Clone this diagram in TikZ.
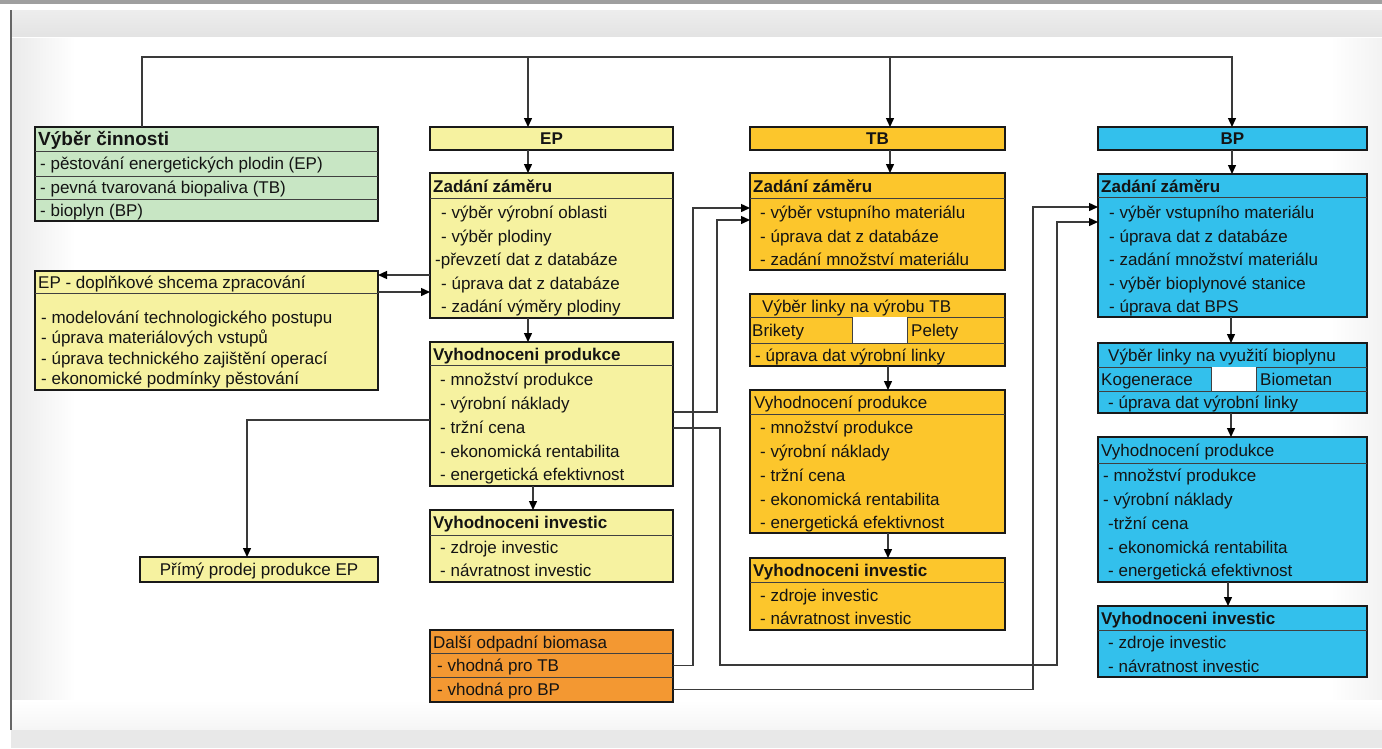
\documentclass[tikz,border=0pt]{standalone}
\usepackage{fontspec}
\setmainfont{Liberation Sans}
\usetikzlibrary{arrows.meta,calc}

\definecolor{fillvc}{HTML}{C8E6C4}
\definecolor{fillep}{HTML}{F6F2A0}
\definecolor{filltb}{HTML}{FCC62C}
\definecolor{fillbp}{HTML}{33C0EC}
\definecolor{fillodp}{HTML}{F39832}
\definecolor{linegray}{HTML}{3A3A3A}

% box: name, x1, y1, x2, y2, fill colour
\newcommand\blk[6]{%
  \pgfmathsetmacro\blkw{#4-#2}\pgfmathsetmacro\blkh{#5-#3}%
  \node[blkframe, fill=#6, minimum width=\blkw pt, minimum height=\blkh pt] (#1) at (#2,#3) {};}
% divider inside a box at height y
\newcommand\rowline[2]{\draw[sepline] (#1.west |- 0,#2) -- (#1.east |- 0,#2);}
% text lines: name, x, y, text
\newcommand\tx[4]{\node[txt] (#1) at (#2,#3) {#4};}
\newcommand\txb[4]{\node[txt, font=\fontsize{17}{20}\selectfont\bfseries] (#1) at (#2,#3) {#4};}

\begin{document}
\begin{tikzpicture}[x=1pt, y=-1pt,
  blkframe/.style={draw=black!90, line width=1.8pt, rectangle, inner sep=0pt, outer sep=0pt, anchor=north west},
  sepline/.style={draw=black!75, line width=0.9pt},
  txt/.style={anchor=mid west, inner sep=0pt, yshift=-3.5pt, text=black!92, font=\fontsize{17}{20}\selectfont},
  conn/.style={draw=linegray, line width=1.4pt},
  arr/.style={conn, -{Triangle[length=9pt, width=8pt, color=black]}}]

\useasboundingbox (0,0) rectangle (1382,748);

% page frame and soft edges
\fill[white] (0,0) rectangle (1382,748);
\fill[gray!75] (0,0) rectangle (1382,3.5);
\shade[top color=black!7, bottom color=black!11] (11,10) rectangle (1382,37);
\draw[white, line width=0.8pt] (11,37.5) -- (1382,37.5);
\shade[left color=black!8, right color=white] (12,38) rectangle (75,730);
\shade[left color=white, right color=black!5] (1330,38) rectangle (1382,730);
\shade[top color=white, bottom color=black!4] (12,700) rectangle (1382,730);
\fill[black!9] (11,730) rectangle (1382,748);
\draw[gray!80!black, line width=1.6pt] (11,10) -- (11,730);

% ---------- activity choice ----------
\blk{vc}{35}{127}{378}{221}{fillvc}
\rowline{vc}{151}\rowline{vc}{176}\rowline{vc}{199}
\node[txt, font=\fontsize{19}{22}\selectfont\bfseries] (vc-t) at (38,139) {Výběr činnosti};
\tx{vc-1}{40}{163.5}{- pěstování energetických plodin (EP)}
\tx{vc-2}{40}{187.5}{- pevná tvarovaná biopaliva (TB)}
\tx{vc-3}{40}{210}{- bioplyn (BP)}

% ---------- supplementary EP scheme ----------
\blk{dop}{35}{271}{378}{390}{fillep}
\rowline{dop}{293}
\tx{dop-t}{38}{282}{EP - doplňkové shcema zpracování}
\tx{dop-1}{41}{317}{- modelování technologického postupu}
\tx{dop-2}{41}{337.5}{- úprava materiálových vstupů}
\tx{dop-3}{41}{358}{- úprava technického zajištění operací}
\tx{dop-4}{41}{378.5}{- ekonomické podmínky pěstování}

\blk{pp}{140}{557}{378}{582}{fillep}
\node[txt, anchor=mid] (pp-t) at (pp.center) {Přímý prodej produkce EP};

% ---------- EP column ----------
\blk{ep}{430}{127}{673}{150}{fillep}
\node[txt, anchor=mid, font=\fontsize{17}{20}\selectfont\bfseries] (ep-t) at (ep.center) {EP};

\blk{epz}{430}{173}{673}{318}{fillep}
\rowline{epz}{198}
\txb{epz-t}{433}{186}{Zadání záměru}
\tx{epz-1}{441}{212}{- výběr výrobní oblasti}
\tx{epz-2}{441}{236}{- výběr plodiny}
\tx{epz-3}{435}{259.5}{-převzetí dat z databáze}
\tx{epz-4}{441}{283}{- úprava dat z databáze}
\tx{epz-5}{441}{306.5}{- zadání výměry plodiny}

\blk{epvp}{430}{342}{673}{486}{fillep}
\rowline{epvp}{365}
\txb{epvp-t}{433}{354}{Vyhodnoceni produkce}
\tx{epvp-1}{440}{379}{- množství produkce}
\tx{epvp-2}{440}{403}{- výrobní náklady}
\tx{epvp-3}{440}{427}{- tržní cena}
\tx{epvp-4}{440}{451}{- ekonomická rentabilita}
\tx{epvp-5}{440}{474.5}{- energetická efektivnost}

\blk{epvi}{430}{510}{673}{582}{fillep}
\rowline{epvi}{535}
\txb{epvi-t}{433}{522.5}{Vyhodnoceni investic}
\tx{epvi-1}{440}{547}{- zdroje investic}
\tx{epvi-2}{440}{570}{- návratnost investic}

\blk{odp}{430}{630}{673}{702}{fillodp}
\rowline{odp}{653}\rowline{odp}{677}
\tx{odp-t}{433}{642}{Další odpadní biomasa}
\tx{odp-1}{437}{665.5}{- vhodná pro TB}
\tx{odp-2}{437}{689.5}{- vhodná pro BP}

% ---------- TB column ----------
\blk{tb}{750}{127}{1005}{150}{filltb}
\node[txt, anchor=mid, font=\fontsize{17}{20}\selectfont\bfseries] (tb-t) at (tb.center) {TB};

\blk{tbz}{750}{173}{1005}{270}{filltb}
\rowline{tbz}{198}
\txb{tbz-t}{753}{186}{Zadání záměru}
\tx{tbz-1}{760}{212}{- výběr vstupního materiálu}
\tx{tbz-2}{760}{236}{- úprava dat z databáze}
\tx{tbz-3}{760}{259}{- zadání množství materiálu}

\blk{tbl}{750}{294}{1005}{366}{filltb}
\rowline{tbl}{317}\rowline{tbl}{343}
\fill[white] (852,317) rectangle (907,343);
\draw[sepline] (852,317) -- (852,343) (907,317) -- (907,343);
\tx{tbl-t}{762}{306}{Výběr linky na výrobu TB}
\tx{tbl-a}{752}{330}{Brikety}
\tx{tbl-b}{911}{330}{Pelety}
\tx{tbl-1}{755}{355}{- úprava dat výrobní linky}

\blk{tbvp}{750}{390}{1005}{533}{filltb}
\rowline{tbvp}{414}
\tx{tbvp-t}{754}{402}{Vyhodnocení produkce}
\tx{tbvp-1}{760}{427}{- množství produkce}
\tx{tbvp-2}{760}{451}{- výrobní náklady}
\tx{tbvp-3}{760}{475}{- tržní cena}
\tx{tbvp-4}{760}{499}{- ekonomická rentabilita}
\tx{tbvp-5}{760}{522}{- energetická efektivnost}

\blk{tbvi}{750}{558}{1005}{630}{filltb}
\rowline{tbvi}{582}
\txb{tbvi-t}{753}{570}{Vyhodnoceni investic}
\tx{tbvi-1}{760}{595}{- zdroje investic}
\tx{tbvi-2}{760}{618}{- návratnost investic}

% ---------- BP column ----------
\blk{bp}{1098}{127}{1367}{150}{fillbp}
\node[txt, anchor=mid, font=\fontsize{17}{20}\selectfont\bfseries] (bp-t) at (bp.center) {BP};

\blk{bpz}{1098}{174}{1367}{317}{fillbp}
\rowline{bpz}{197}
\txb{bpz-t}{1101}{186}{Zadání záměru}
\tx{bpz-1}{1109}{212}{- výběr vstupního materiálu}
\tx{bpz-2}{1109}{236}{- úprava dat z databáze}
\tx{bpz-3}{1109}{259}{- zadání množství materiálu}
\tx{bpz-4}{1109}{283}{- výběr bioplynové stanice}
\tx{bpz-5}{1109}{306}{- úprava dat BPS}

\blk{bpl}{1098}{343}{1367}{413}{fillbp}
\rowline{bpl}{367}\rowline{bpl}{391}
\fill[white] (1211,367) rectangle (1256,391);
\draw[sepline] (1211,367) -- (1211,391) (1256,367) -- (1256,391);
\tx{bpl-t}{1108}{355}{Výběr linky na využití bioplynu}
\tx{bpl-a}{1101}{379}{Kogenerace}
\tx{bpl-b}{1260}{379}{Biometan}
\tx{bpl-1}{1108}{402}{- úprava dat výrobní linky}

\blk{bpvp}{1098}{437}{1367}{582}{fillbp}
\rowline{bpvp}{463}
\tx{bpvp-t}{1101}{450}{Vyhodnocení produkce}
\tx{bpvp-1}{1103}{475}{- množství produkce}
\tx{bpvp-2}{1103}{499}{- výrobní náklady}
\tx{bpvp-3}{1108}{523}{-tržní cena}
\tx{bpvp-4}{1108}{547}{- ekonomická rentabilita}
\tx{bpvp-5}{1108}{570}{- energetická efektivnost}

\blk{bpvi}{1098}{606}{1367}{677}{fillbp}
\rowline{bpvi}{630}
\txb{bpvi-t}{1101}{618}{Vyhodnoceni investic}
\tx{bpvi-1}{1108}{642}{- zdroje investic}
\tx{bpvi-2}{1108}{666}{- návratnost investic}

% ---------- connectors ----------
% distribution line from the activity choice
\coordinate (busL) at (142,57);
\coordinate (busEP) at (528,57);
\coordinate (busTB) at (890,57);
\draw[arr] (vc.north -| busL) -- (busL) -| (bp.north -| 1232,0);
\draw[arr] (busEP) -- (ep.north -| busEP);
\draw[arr] (busTB) -- (tb.north -| busTB);

% vertical flow within columns
\draw[arr] (ep.south -| 528,0) -- (epz.north -| 528,0);
\draw[arr] (epz.south -| 528,0) -- (epvp.north -| 528,0);
\draw[arr] (epvp.south -| 533,0) -- (epvi.north -| 533,0);
\draw[arr] (tb.south -| 890,0) -- (tbz.north -| 890,0);
\draw[arr] (tbl.south -| 888,0) -- (tbvp.north -| 888,0);
\draw[arr] (tbvp.south -| 888,0) -- (tbvi.north -| 888,0);
\draw[arr] (bp.south -| 1232,0) -- (bpz.north -| 1232,0);
\draw[arr] (bpz.south -| 1231,0) -- (bpl.north -| 1231,0);
\draw[arr] (bpl.south -| 1231,0) -- (bpvp.north -| 1231,0);
\draw[arr] (bpvp.south -| 1228,0) -- (bpvi.north -| 1228,0);

% EP intent <-> supplementary scheme
\draw[arr] (epz.west |- 0,275) -- (dop.east |- 0,275);
\draw[arr] (dop.east |- 0,292) -- (epz.west |- 0,292);

% EP production to direct sale
\draw[arr] (epvp.west |- 0,420) -| (pp.north -| 247,0);

% EP production and waste biomass to TB
\draw[arr] (epvp.east |- 0,412) -| (717,220) -- (tbz.west |- 0,220);
\draw[arr] (odp.east |- 0,665.5) -| (693,208) -- (tbz.west |- 0,208);

% EP production and waste biomass to BP
\draw[arr] (epvp.east |- 0,428) -| (720,665) -| (1057,222) -- (bpz.west |- 0,222);
\draw[arr] (odp.east |- 0,689.5) -| (1033,207) -- (bpz.west |- 0,207);

\end{tikzpicture}
\end{document}
